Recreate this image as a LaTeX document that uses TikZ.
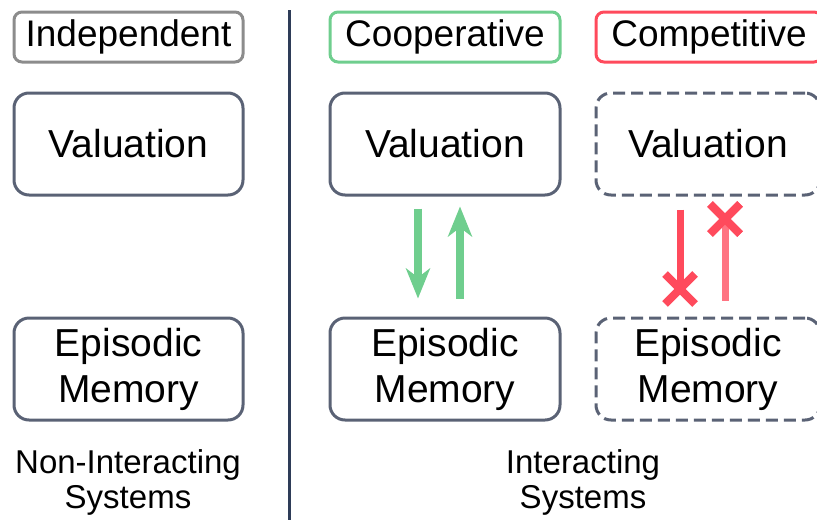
\documentclass[tikz,border=0pt]{standalone}
\usepackage{fontspec}
\setmainfont{Liberation Sans}
\usetikzlibrary{arrows.meta,shapes.misc}
\definecolor{slate}{HTML}{5A6275}
\definecolor{navy}{HTML}{2E3C58}
\definecolor{coopgreen}{HTML}{6FCE8E}
\definecolor{compred}{HTML}{FF4A5C}
\definecolor{comppink}{HTML}{FF7482}
\begin{document}
\begin{tikzpicture}
  [x=1pt,y=-1pt,
   tag/.style={draw,line width=3pt,rounded corners=8pt,minimum height=50pt,
     font=\fontsize{37}{42}\selectfont},
   sysbox/.style={draw=slate,line width=3pt,rounded corners=15pt,minimum height=102pt,
     align=center,font=\fontsize{39}{46}\selectfont},
   ghost/.style={sysbox,dash pattern=on 12pt off 6pt},
   caption/.style={align=center,font=\fontsize{33}{35}\selectfont},
   garrow/.style={coopgreen,line width=8pt,-{Stealth[length=30pt,width=24pt,inset=9pt]}},
   xmark/.style={cross out,draw=compred,line width=8pt,minimum size=22pt,inner sep=0pt}]
  \useasboundingbox (0,0) rectangle (817,520);

  \node (ind) [tag,draw=gray!90,minimum width=229pt] at (128.5,37) {Independent};
  \node (coop) [tag,draw=coopgreen,minimum width=230pt] at (445,37) {Cooperative};
  \node (comp) [tag,draw=compred,minimum width=226pt] at (709,37) {Competitive};

  \node (val1) [sysbox,minimum width=229pt] at (128.5,144) {Valuation};
  \node (val2) [sysbox,minimum width=230pt] at (445,144) {Valuation};
  \node (val3) [ghost,minimum width=224pt] at (708,144) {Valuation};

  \node (epi1) [sysbox,minimum width=229pt] at (128.5,369) {Episodic\\Memory};
  \node (epi2) [sysbox,minimum width=230pt] at (445,369) {Episodic\\Memory};
  \node (epi3) [ghost,minimum width=224pt] at (708,369) {Episodic\\Memory};

  \coordinate (divtop) at (289,10);
  \coordinate (divbot) at (289,520);
  \draw[navy,line width=3pt] (divtop) -- (divbot);

  \draw[garrow,shorten <=12pt,shorten >=18pt] ([xshift=-27pt]val2.south) -- ([xshift=-27pt]epi2.north);
  \draw[garrow,shorten <=18pt,shorten >=10pt] ([xshift=15pt]epi2.north) -- ([xshift=15pt]val2.south);

  \node (x1) [xmark] at (680,289) {};
  \node (x2) [xmark] at (725,219) {};
  \draw[compred,line width=7pt,shorten <=13pt] (x1 |- val3.south) -- (x1.center);
  \draw[comppink,line width=7pt,shorten <=16pt] (x2 |- epi3.north) -- (x2.center);
  \node [xmark] at (x2) {};

  \node (cap1) [caption] at (128,482) {Non-Interacting\\Systems};
  \node (cap2) [caption] at (583,482) {Interacting\\Systems};
\end{tikzpicture}
\end{document}
